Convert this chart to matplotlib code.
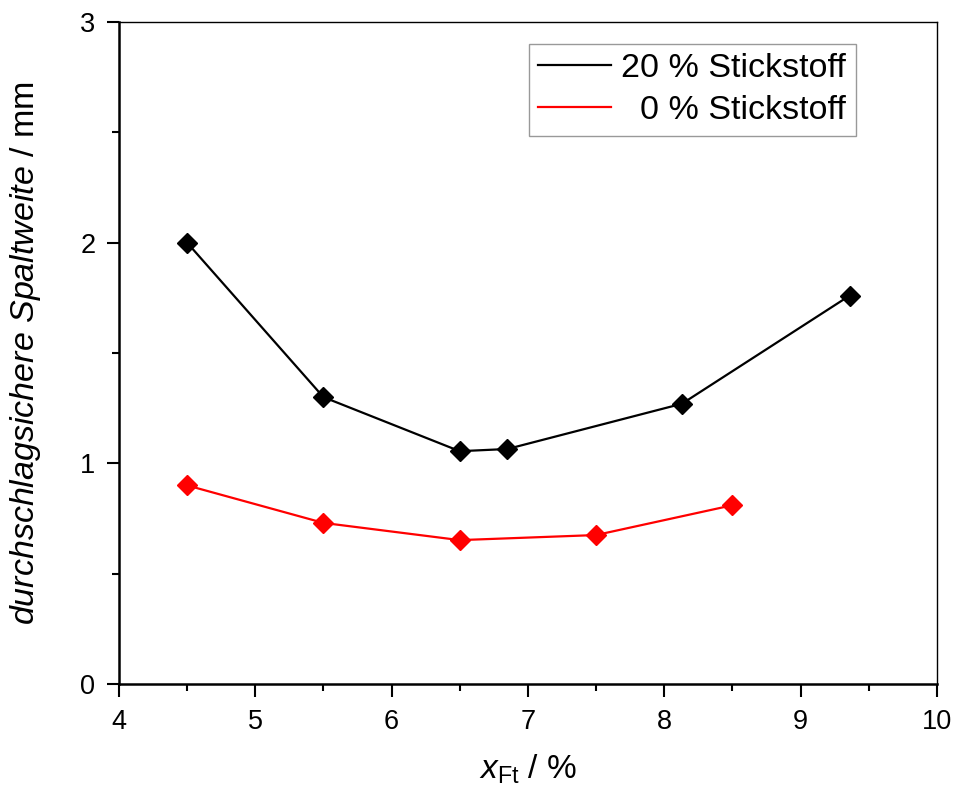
import matplotlib
matplotlib.use('Agg')
import matplotlib.pyplot as plt
from matplotlib.ticker import MultipleLocator

plt.rcParams['font.family'] = ['Liberation Sans', 'DejaVu Sans']
plt.rcParams['mathtext.fontset'] = 'custom'
plt.rcParams['mathtext.rm'] = 'Liberation Sans'
plt.rcParams['mathtext.it'] = 'Liberation Sans:italic'

# 20 % Stickstoff
x_n20 = [4.5, 5.5, 6.5, 6.85, 8.13, 9.36]
y_n20 = [2.0, 1.3, 1.055, 1.065, 1.27, 1.76]
# 0 % Stickstoff
x_n0 = [4.5, 5.5, 6.5, 7.5, 8.5]
y_n0 = [0.9, 0.73, 0.652, 0.675, 0.81]

fig = plt.figure(figsize=(9.54, 7.87), dpi=100)
ax = fig.add_axes([0.1247, 0.1309, 0.8573, 0.8411])

ax.plot(x_n20, y_n20, color='black', lw=1.6, marker='D', ms=10,
        label='20 % Stickstoff')
ax.plot(x_n0, y_n0, color='red', lw=1.6, marker='D', ms=10,
        label='  0 % Stickstoff')

ax.set_xlim(4, 10)
ax.set_ylim(0, 3)
ax.xaxis.set_major_locator(MultipleLocator(1))
ax.xaxis.set_minor_locator(MultipleLocator(0.5))
ax.yaxis.set_major_locator(MultipleLocator(1))
ax.yaxis.set_minor_locator(MultipleLocator(0.5))
ax.tick_params(which='major', direction='out', length=9, width=1.5,
               labelsize=19.5)
ax.tick_params(axis='x', which='major', pad=9)
ax.tick_params(axis='y', which='major', pad=8)
ax.tick_params(which='minor', direction='out', length=5, width=1.5)

for s in ['left', 'bottom']:
    ax.spines[s].set_linewidth(1.8)
for s in ['top', 'right']:
    ax.spines[s].set_linewidth(1.0)

ax.set_xlabel(r'$x_{\mathrm{Ft}}$ / %', fontsize=24, labelpad=13)
ax.set_ylabel(r'$\mathit{durchschlagsichere\ Spaltweite}$ / mm', fontsize=24.5,
              labelpad=27)

leg = ax.legend(loc='upper right', bbox_to_anchor=(0.901, 0.967), fontsize=24.5,
                frameon=True, fancybox=False, edgecolor='gray',
                handlelength=2.15, handletextpad=0.3, borderpad=0.28,
                labelspacing=0.32, borderaxespad=0)
leg.get_frame().set_linewidth(1.0)
for line in leg.get_lines():
    line.set_marker('')

fig.savefig('out.png', dpi=100)
